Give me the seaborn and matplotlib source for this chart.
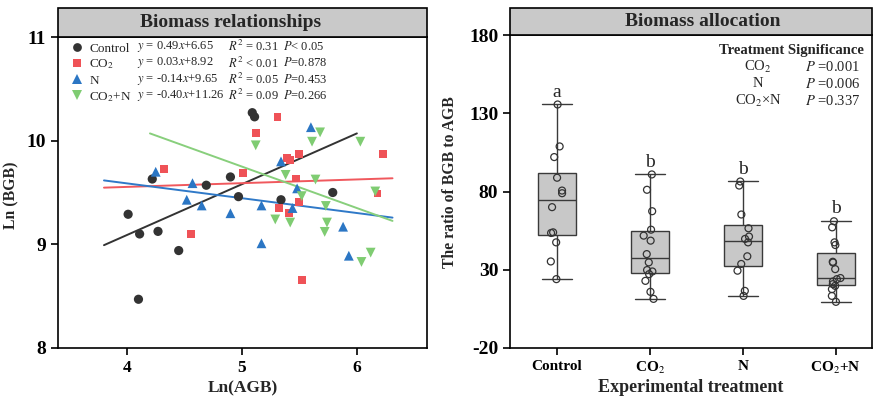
import numpy as np
import pandas as pd
import matplotlib
matplotlib.use("Agg")
import matplotlib.pyplot as plt
import seaborn as sns
from matplotlib.lines import Line2D
from matplotlib.patches import Rectangle

# ---------------- data: left panel (Ln AGB vs Ln BGB) ----------------
groups = ["Control", "CO2", "N", "CO2+N"]
group_labels = ["Control", "CO$_2$", "N", "CO$_2$+N"]

ctrl_x = [5.09, 5.11, 4.22, 4.69, 4.90, 4.97, 5.34, 5.79, 4.01, 4.11, 4.27, 4.45, 4.10]
ctrl_y = [10.27, 10.23, 9.63, 9.57, 9.65, 9.46, 9.43, 9.50, 9.29, 9.10, 9.125, 8.94, 8.47]

co2_x = [5.12, 4.32, 5.01, 5.31, 6.23, 5.50, 5.39, 5.42, 5.47, 6.18, 5.50, 5.32, 5.41, 4.56, 5.52]
co2_y = [10.07, 9.73, 9.69, 10.23, 9.87, 9.875, 9.83, 9.81, 9.635, 9.49, 9.41, 9.35, 9.30, 9.10, 8.66]

n_x = [4.25, 4.57, 4.52, 4.65, 5.17, 5.60, 5.34, 5.48, 5.44, 4.90, 5.17, 5.88, 5.93]
n_y = [9.70, 9.59, 9.43, 9.375, 9.375, 10.13, 9.80, 9.54, 9.35, 9.30, 9.01, 9.17, 8.89]

co2n_x = [5.12, 5.68, 5.61, 6.03, 5.38, 5.64, 5.52, 6.16, 5.73, 5.29, 5.42, 5.74, 5.72, 6.12, 6.04]
co2n_y = [9.955, 10.08, 9.99, 9.99, 9.67, 9.625, 9.465, 9.51, 9.37, 9.24, 9.21, 9.21, 9.12, 8.92, 8.83]

# fitted lines as drawn
fit_slope = [0.49, 0.036, -0.143, -0.40]
fit_intercept = [7.13, 9.41, 10.16, 11.75]
fit_xmin = [3.80, 3.80, 3.80, 4.20]
fit_xmax = [6.00, 6.31, 6.31, 6.31]

eq_text = ["$y$ = 0.49$x$+6.65", "$y$ = 0.03$x$+8.92", "$y$ = -0.14$x$+9.65", "$y$ = -0.40$x$+11.26"]
r2_text = ["$R^2$ = 0.31", "$R^2$ < 0.01", "$R^2$ = 0.05", "$R^2$ = 0.09"]
p_text = ["$P$< 0.05", "$P$=0.878", "$P$=0.453", "$P$=0.266"]

# ---------------- data: right panel (BGB/AGB ratio) ----------------
ratio_control = [135.6, 108.8, 102.0, 88.8, 80.6, 78.9, 70.0, 53.9, 53.5, 47.5, 35.3, 24.0]
ratio_co2 = [90.9, 81.1, 67.4, 55.6, 51.8, 48.6, 40.0, 34.7, 29.8, 28.9, 27.2, 22.9, 15.9, 11.4]
ratio_n = [86.4, 83.8, 65.3, 56.5, 51.2, 49.7, 47.5, 38.6, 33.7, 29.4, 16.5, 13.3]
ratio_co2n = [61.0, 57.1, 47.5, 45.8, 35.1, 34.6, 30.4, 24.7, 24.0, 22.5, 20.8, 19.7, 17.6, 13.3, 9.5]
sig_letters = ["a", "b", "b", "b"]
sig_terms = ["CO$_2$", "N", "CO$_2$×N"]
sig_p = ["$P$ =0.001", "$P$ =0.006", "$P$ =0.337"]

# ---------------- style ----------------
sns.set_theme(style="ticks")
plt.rcParams["font.family"] = ["Liberation Serif", "DejaVu Serif"]
plt.rcParams["mathtext.fontset"] = "stix"
plt.rcParams["axes.linewidth"] = 1.2
plt.rcParams["axes.unicode_minus"] = False

colors = ["#333333", "#EF5257", "#2B76C4", "#7FCC72"]
line_colors = ["#333333", "#F0585D", "#2F79C8", "#88CF7C"]
markers = ["o", "s", "^", "v"]
msizes = [44, 32, 50, 50]
header_gray = "#C9C9C9"

fig = plt.figure(figsize=(8.74, 3.98), dpi=100)
W, H = 874, 398
axL = fig.add_axes([58 / W, 1 - 348 / H, 369 / W, 311 / H])
axR = fig.add_axes([510 / W, 1 - 348 / H, 362 / W, 313 / H])

# ---------------- left panel ----------------
xs = [ctrl_x, co2_x, n_x, co2n_x]
ys = [ctrl_y, co2_y, n_y, co2n_y]
frames = []
for g, x, y in zip(groups, xs, ys):
    frames.append(pd.DataFrame({"group": g, "AGB": x, "BGB": y}))
dfL = pd.concat(frames, ignore_index=True)

for i, g in enumerate(groups):
    sub = dfL[dfL["group"] == g]
    sns.scatterplot(data=sub, x="AGB", y="BGB", ax=axL, color=colors[i],
                    marker=markers[i], s=msizes[i], edgecolor="none",
                    linewidth=0, legend=False, zorder=3)

for i in range(4):
    xx = np.array([fit_xmin[i], fit_xmax[i]])
    axL.plot(xx, fit_slope[i] * xx + fit_intercept[i], color=line_colors[i],
             lw=1.4, zorder=2)

axL.set_xlim(3.4, 6.61)
axL.set_ylim(8, 11)
axL.set_xticks([4, 5, 6])
axL.set_yticks([8, 9, 10, 11])
axL.set_xlabel("Ln(AGB)", fontsize=12.5, fontweight="bold", labelpad=3)
axL.set_ylabel("Ln (BGB)", fontsize=11.3, fontweight="bold")
axL.yaxis.set_label_coords(-39 / 369, 0.49)

handles = [Line2D([], [], linestyle="none", marker=markers[i], color=colors[i],
                  markersize=np.sqrt(msizes[i]) * 0.95, markeredgewidth=0)
           for i in range(4)]
leg = axL.legend(handles, group_labels, loc="upper left",
                 bbox_to_anchor=(0.02, 1.0), frameon=False, fontsize=9.5,
                 handletextpad=0.4, labelspacing=0.235, borderaxespad=0.2,
                 handlelength=1.0, borderpad=0.2)

# ---------------- right panel ----------------
vals = [ratio_control, ratio_co2, ratio_n, ratio_co2n]
frames = []
for g, v in zip(groups, vals):
    frames.append(pd.DataFrame({"treatment": g, "ratio": v}))
dfR = pd.concat(frames, ignore_index=True)

sns.boxplot(data=dfR, x="treatment", y="ratio", order=groups, ax=axR,
            color="#C8C8C8", saturation=1, width=0.41, whis=(0, 100),
            linecolor="#3a3a3a", linewidth=1.0, showfliers=False,
            capwidths=0.32)
np.random.seed(3)
sns.stripplot(data=dfR, x="treatment", y="ratio", order=groups, ax=axR,
              jitter=0.07, size=5, facecolor="none", edgecolor="#333333",
              linewidth=0.9, marker="o", color="none", zorder=4)
for coll in axR.collections:
    coll.set_facecolor("none")
    coll.set_edgecolor("#333333")

for i, v in enumerate(vals):
    axR.text(i, max(v) + 2.5, sig_letters[i], ha="center", va="bottom",
             fontsize=14)

axR.set_xlim(-0.505, 3.39)
axR.set_ylim(-20, 180)
axR.set_yticks([-20, 30, 80, 130, 180])
axR.set_xticklabels(group_labels)
axR.set_xlabel("Experimental treatment", fontsize=13, fontweight="bold", labelpad=2)
axR.set_ylabel("The ratio of BGB to AGB", fontsize=11.3, fontweight="bold")
axR.yaxis.set_label_coords(-52 / 362, 0.53)

axR.text(0.778, 0.952, "Treatment Significance", transform=axR.transAxes,
         ha="center", va="center", fontsize=10.5, fontweight="bold")
for k in range(3):
    yk = 0.898 - k * 0.0545
    axR.text(0.685, yk, sig_terms[k], transform=axR.transAxes, ha="center",
             va="center", fontsize=10.5)
    axR.text(0.815, yk, sig_p[k], transform=axR.transAxes, ha="left",
             va="center", fontsize=10.5)

# ---------------- common styling ----------------
for ax, hfrac, title, tx in [(axL, 29 / 311, "Biomass relationships", 0.468),
                             (axR, 27 / 313, "Biomass allocation", 0.532)]:
    ax.set_facecolor("white")
    for sp in ax.spines.values():
        sp.set_visible(True)
        sp.set_color("black")
        sp.set_linewidth(1.2)
    ax.tick_params(axis="both", direction="out", length=5, width=1.2,
                   colors="black", top=False, right=False)
    for lab in ax.get_yticklabels():
        lab.set_fontsize(14)
        lab.set_fontweight("bold")
    ax.add_patch(Rectangle((0, 1), 1, hfrac, transform=ax.transAxes,
                           facecolor=header_gray, edgecolor="black", lw=1.2,
                           clip_on=False, zorder=5))
    ax.text(tx, 1 + hfrac / 2, title, transform=ax.transAxes, ha="center",
            va="center", fontsize=14, fontweight="bold", zorder=6)

for lab in axL.get_xticklabels():
    lab.set_fontsize(12.5)
    lab.set_fontweight("bold")
for lab in axR.get_xticklabels():
    lab.set_fontsize(11)
    lab.set_fontweight("bold")

# align equation columns with legend rows
fig.canvas.draw()
inv = axL.transAxes.inverted()
for i, hnd in enumerate(leg.legend_handles):
    bb = hnd.get_window_extent(fig.canvas.get_renderer())
    yc = inv.transform(((bb.x0 + bb.x1) / 2, (bb.y0 + bb.y1) / 2))[1]
    axL.text(0.214, yc, eq_text[i], transform=axL.transAxes, ha="left",
             va="center", fontsize=9)
    axL.text(0.461, yc, r2_text[i], transform=axL.transAxes, ha="left",
             va="center", fontsize=9)
    axL.text(0.610, yc, p_text[i], transform=axL.transAxes, ha="left",
             va="center", fontsize=9)

fig.savefig("out.png", dpi=100)
